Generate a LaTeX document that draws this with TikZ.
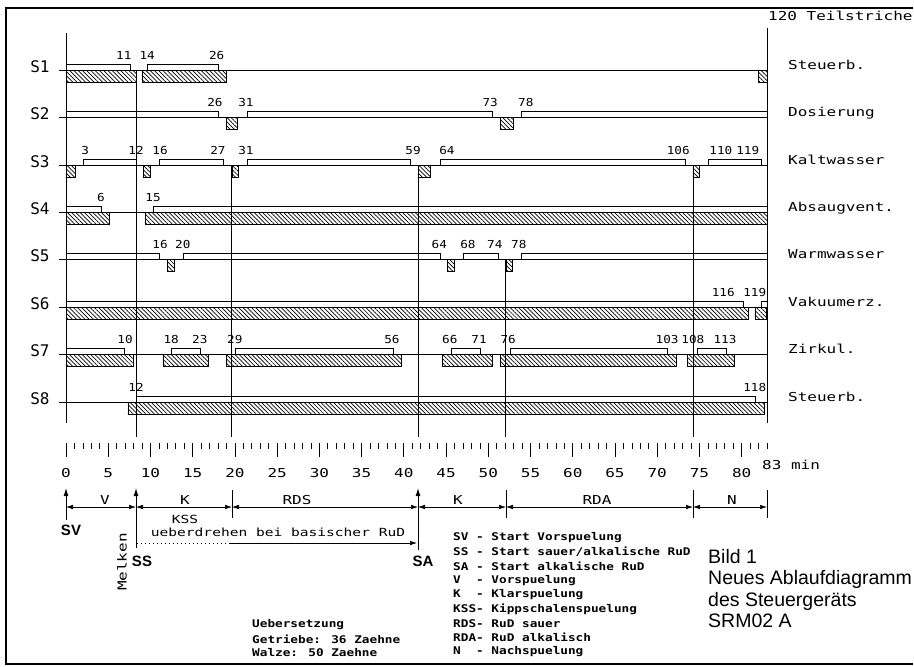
\documentclass[tikz,border=0pt]{standalone}
\usepackage{fontspec}
\setmainfont{Liberation Sans}
\newfontfamily\plotfont[FakeStretch=1.3]{DejaVu Sans Mono}
\newfontfamily\numfont[FakeStretch=1.15]{DejaVu Sans Mono}
\newfontfamily\rowfont{DejaVu Sans Mono}
\newfontfamily\legfont[FakeStretch=1.2]{DejaVu Sans Mono}
\usetikzlibrary{arrows.meta,patterns.meta}

\tikzset{
  frame/.style={line width=1.5pt},
  sig/.style={line width=0.6pt},
  cambar/.style={draw, line width=0.7pt, pattern={Lines[angle=-45,distance=3pt,line width=0.7pt]}},
  guide/.style={line width=0.9pt},
  tickmark/.style={line width=0.7pt},
  numlbl/.style={font=\numfont\fontsize{11}{12}\selectfont, inner sep=0pt, anchor=south},
  rowlbl/.style={font=\rowfont\fontsize{16}{18}\selectfont, inner sep=0pt, anchor=base},
  namelbl/.style={font=\plotfont\fontsize{12.3}{14}\selectfont, inner sep=0pt, anchor=base west},
  mainlbl/.style={font=\plotfont\fontsize{12.3}{14}\selectfont, inner sep=0pt},
  smalllbl/.style={font=\plotfont\fontsize{11.2}{13}\selectfont, inner sep=0pt},
  startlbl/.style={font=\bfseries\fontsize{15}{17}\selectfont, inner sep=0pt},
  legtxt/.style={font=\legfont\bfseries\fontsize{10.6}{12}\selectfont, inner sep=0pt, anchor=west},
  dimline/.style={line width=0.6pt, {Latex[length=7pt,width=4.5pt]}-{Latex[length=7pt,width=4.5pt]}},
  upmark/.style={line width=1pt, -{Latex[length=8pt,width=5pt]}},
  barmark/.style={line width=0.9pt}
}

\begin{document}
\begin{tikzpicture}[x=1pt, y=-1pt]
\useasboundingbox (0,0) rectangle (914,667);
\draw[frame] (913,8) -- (6,8) -- (6,664) -- (913,664);

% row names
\node[rowlbl] (s1) at (40,72) {S1};
\node[rowlbl] (s2) at (40,119.5) {S2};
\node[rowlbl] (s3) at (40,167) {S3};
\node[rowlbl] (s4) at (40,214) {S4};
\node[rowlbl] (s5) at (40,261.5) {S5};
\node[rowlbl] (s6) at (40,309) {S6};
\node[rowlbl] (s7) at (40,356) {S7};
\node[rowlbl] (s8) at (40,404) {S8};
\node[namelbl] (n1) at (788,69) {Steuerb.};
\node[namelbl] (n2) at (788,116.5) {Dosierung};
\node[namelbl] (n3) at (788,164) {Kaltwasser};
\node[namelbl] (n4) at (788,211) {Absaugvent.};
\node[namelbl] (n5) at (788,258.5) {Warmwasser};
\node[namelbl] (n6) at (788,306) {Vakuumerz.};
\node[namelbl] (n7) at (788,353) {Zirkul.};
\node[namelbl] (n8) at (788,401) {Steuerb.};
\node[namelbl] (teil) at (768,20) {120 Teilstriche};

% cam rows, x in Teilstriche
\begin{scope}[shift={(66,0)}, x=5.842pt]
\draw[guide] (0,33) -- (0,423);
\draw[guide] (120,28) -- (120,423);
\draw[guide] (12,70) -- (12,437);
\foreach \t in {28.4,60.3,107.4} \draw[guide] (\t,165) -- (\t,437);
\draw[guide] (75.3,259.5) -- (75.3,437);
% S1
\draw[sig] (-1.2,70) -- (120,70);
\foreach \a/\b in {0/12,13/27.5,118.5/120} \draw[cambar] (\a,70) rectangle (\b,82);
\foreach \a/\b in {0/11,14/26} \draw[sig] (\a,70) |- (\b,64) -- (\b,70);
\foreach \v/\p in {11/9.9,14/13.9,26/25.8} \node[numlbl] (s1t\v) at (\p,59.5) {\v};
% S2
\draw[sig] (-1.2,117.5) -- (120,117.5);
\foreach \a/\b in {27.4/29.4,74.3/76.5} \draw[cambar] (\a,117.5) rectangle (\b,129.5);
\foreach \a/\b in {0/26,31/73,78/120} \draw[sig] (\a,117.5) |- (\b,111.5) -- (\b,117.5);
\foreach \v/\p in {26/25.5,31/30.8,73/72.6,78/78.7} \node[numlbl] (s2t\v) at (\p,107) {\v};
% S3
\draw[sig] (-1.2,165) -- (120,165);
\foreach \a/\b in {0/1.6,13.3/14.5,28.4/29.5,60.3/62.3,107.3/108.4} \draw[cambar] (\a,165) rectangle (\b,177);
\foreach \a/\b in {3/12,16/27,31/59,64/106,110/119} \draw[sig] (\a,165) |- (\b,159) -- (\b,165);
\foreach \v/\p in {3/3.3,12/12,16/16.1,27/26,31/30.8,59/59.4,64/65.2,106/104.8,110/112.1,119/116.7} \node[numlbl] (s3t\v) at (\p,154.5) {\v};
% S4
\draw[sig] (-1.2,212) -- (120,212);
\foreach \a/\b in {0/7.5,13.5/120} \draw[cambar] (\a,212) rectangle (\b,224);
\foreach \a/\b in {0/6,15/120} \draw[sig] (\a,212) |- (\b,206) -- (\b,212);
\foreach \v/\p in {6/6,15/14.9} \node[numlbl] (s4t\v) at (\p,201.5) {\v};
% S5
\draw[sig] (-1.2,259.5) -- (120,259.5);
\foreach \a/\b in {17.4/18.5,65.3/66.5,75.4/76.4} \draw[cambar] (\a,259.5) rectangle (\b,271.5);
\foreach \a/\b in {0/16,20/64,68/74,78/120} \draw[sig] (\a,259.5) |- (\b,253.5) -- (\b,259.5);
\foreach \v/\p in {16/16.1,20/20,64/63.9,68/68.8,74/73.4,78/77.5} \node[numlbl] (s5t\v) at (\p,249) {\v};
% S6
\draw[sig] (-1.2,307) -- (120,307);
\foreach \a/\b in {0/116.8,118/119.8} \draw[cambar] (\a,307) rectangle (\b,319);
\foreach \a/\b in {0/116,119/120} \draw[sig] (\a,307) |- (\b,301) -- (\b,307);
\foreach \v/\p in {116/112.5,119/117.9} \node[numlbl] (s6t\v) at (\p,297) {\v};
% S7
\draw[sig] (-1.2,354) -- (120,354);
\foreach \a/\b in {0/11.5,16.6/24.3,27.4/57.4,64.4/73,74.3/104.5,106.3/114.4} \draw[cambar] (\a,354) rectangle (\b,366);
\foreach \a/\b in {0/10,18/23,29/56,66/71,76/103,108/113} \draw[sig] (\a,354) |- (\b,348) -- (\b,354);
\foreach \v/\p in {10/10.1,18/18,23/22.9,29/28.9,56/55.8,66/65.7,71/70.7,76/75.7,103/102.9,108/107.3,113/112.8} \node[numlbl] (s7t\v) at (\p,343.5) {\v};
% S8
\draw[sig] (-1.2,402) -- (120,402);
\foreach \a/\b in {10.6/119.5} \draw[cambar] (\a,402) rectangle (\b,414);
\foreach \a/\b in {12/118} \draw[sig] (\a,402) |- (\b,396) -- (\b,402);
\foreach \v/\p in {12/12,118/117.9} \node[numlbl] (s8t\v) at (\p,391.5) {\v};
\end{scope}

% time scale in minutes
\begin{scope}[shift={(66,0)}, x=8.446pt]
\foreach \m in {0,...,83} \draw[tickmark] (\m,443) -- (\m,449);
\foreach \m in {0,5,...,80} \draw[tickmark] (\m,443) -- (\m,457);
\foreach \m in {0,5,...,80} \node[mainlbl] (min\m) at (\m,473) {\m};
\end{scope}
\node[mainlbl, anchor=west] (minend) at (762,465) {83 min};

% phases
\coordinate (psv) at (66,507);
\coordinate (pss) at (136,507);
\coordinate (prds) at (232,507);
\coordinate (psa) at (418,507);
\coordinate (prda) at (506,507);
\coordinate (pn) at (693,507);
\coordinate (pend) at (767,507);
\draw[upmark] (66,520) -- (66,488);
\draw[upmark] (136,548) -- (136,488);
\draw[upmark] (418,550) -- (418,488);
\foreach \x in {232,506,693,767} \draw[barmark] (\x,490) -- (\x,518);
\draw[dimline] (psv) -- (pss);
\draw[dimline] (pss) -- (prds);
\draw[dimline] (prds) -- (psa);
\draw[dimline] (psa) -- (prda);
\draw[dimline] (prda) -- (pn);
\draw[dimline] (pn) -- (pend);
\node[mainlbl] (lv) at (105,500) {V};
\node[mainlbl] (lk1) at (185,500) {K};
\node[mainlbl] (lrds) at (297,500) {RDS};
\node[mainlbl] (lk2) at (458,500) {K};
\node[mainlbl] (lrda) at (597,500) {RDA};
\node[mainlbl] (ln) at (732,500) {N};
\node[startlbl] (sv) at (71,530) {SV};
\node[startlbl] (ss) at (142,561) {SS};
\node[startlbl] (sa) at (423,561) {SA};
\node[mainlbl, rotate=90] (melken) at (122,562) {Melken};

% KSS
\node[smalllbl] (kss) at (185,519) {KSS};
\node[smalllbl] (ueber) at (278,532) {ueberdrehen bei basischer RuD};
\coordinate (kssa) at (137,543);
\coordinate (kssb) at (230,543);
\coordinate (kssc) at (417,543);
\draw[line width=0.7pt, dash pattern=on 1pt off 3pt] (kssa) -- (kssb);
\draw[line width=0.6pt, -{Latex[length=7pt,width=4.5pt]}] (kssb) -- (kssc);

% legend
\node[legtxt] (leg1) at (453,537.5) {SV - Start Vorspuelung};
\node[legtxt] (leg2) at (453,551.8) {SS - Start sauer/alkalische RuD};
\node[legtxt] (leg3) at (453,566.1) {SA - Start alkalische RuD};
\node[legtxt] (leg4) at (453,580.4) {V~~- Vorspuelung};
\node[legtxt] (leg5) at (453,594.7) {K~~- Klarspuelung};
\node[legtxt] (leg6) at (453,609) {KSS- Kippschalenspuelung};
\node[legtxt] (leg7) at (453,623.3) {RDS- RuD sauer};
\node[legtxt] (leg8) at (453,637.6) {RDA- RuD alkalisch};
\node[legtxt] (leg9) at (453,651.9) {N~~- Nachspuelung};
\node[legtxt] (ueb1) at (252,625) {Uebersetzung};
\node[legtxt] (ueb2) at (252,639) {Getriebe: 36 Zaehne};
\node[legtxt] (ueb3) at (252,653) {Walze: 50 Zaehne};

% caption
\node[font=\fontsize{19.5}{21.5}\selectfont, inner sep=0pt, anchor=north west, align=left] (bild) at (708,549)
  {Bild 1\\Neues Ablaufdiagramm\\des Steuerger\"ats\\SRM02 A};
\end{tikzpicture}
\end{document}
